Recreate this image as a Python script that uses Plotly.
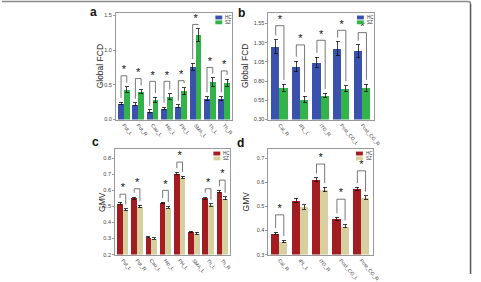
import plotly.graph_objects as go

W, H = 481, 282

# ---------------- data ----------------
a_labels = ["Put_L", "Put_R", "Cau_L", "Hip_L", "PH_L", "SMA_L", "Th_L", "Th_R"]
a_hc = [0.23, 0.22, 0.12, 0.16, 0.19, 0.76, 0.30, 0.30]
a_sz = [0.43, 0.40, 0.28, 0.33, 0.41, 1.22, 0.54, 0.53]
a_hc_err = [0.02, 0.02, 0.02, 0.02, 0.02, 0.05, 0.03, 0.03]
a_sz_err = [0.04, 0.03, 0.04, 0.04, 0.05, 0.09, 0.06, 0.05]
a_bracket = [0.63, 0.59, 0.55, 0.55, 0.56, 1.37, 0.75, 0.70]

b_labels = ["Cal_R", "IPL_L", "ITG_R", "Post_CG_L", "Post_CG_R"]
b_hc = [1.25, 0.99, 1.04, 1.22, 1.19]
b_sz = [0.71, 0.56, 0.61, 0.70, 0.71]
b_hc_err = [0.09, 0.07, 0.07, 0.09, 0.08]
b_sz_err = [0.05, 0.04, 0.03, 0.04, 0.05]
b_bracket = [1.52, 1.27, 1.33, 1.46, 1.43]

c_labels = ["Put_L", "Put_R", "Cau_L", "Hip_L", "PH_L", "SMA_L", "Th_L", "Th_R"]
c_hc = [0.520, 0.552, 0.308, 0.521, 0.706, 0.340, 0.552, 0.593]
c_sz = [0.480, 0.500, 0.300, 0.495, 0.682, 0.332, 0.509, 0.550]
c_hc_err = [0.006, 0.006, 0.004, 0.005, 0.006, 0.005, 0.006, 0.007]
c_sz_err = [0.007, 0.007, 0.004, 0.006, 0.007, 0.006, 0.008, 0.009]
c_sig = [True, True, False, True, True, False, True, True]
c_bracket = [0.576, 0.61, None, 0.60, 0.776, None, 0.61, 0.664]

d_labels = ["Cal_R", "IPL_L", "ITG_R", "Post_CG_L", "Post_CG_R"]
d_hc = [0.388, 0.526, 0.611, 0.448, 0.573]
d_sz = [0.354, 0.498, 0.570, 0.418, 0.537]
d_hc_err = [0.005, 0.008, 0.008, 0.006, 0.006]
d_sz_err = [0.005, 0.009, 0.009, 0.006, 0.007]
d_sig = [True, False, True, True, True]
d_bracket = [0.465, None, 0.676, 0.53, 0.648]

series_names = ["HC", "SZ"]
blue, green = "#3a52ad", "#33b44a"
red, beige = "#a31c21", "#d8cf9f"

FONT = "Liberation Sans, Arial, sans-serif"
fig = go.Figure()

def px_x(p):
    return p / W

def px_y(p):
    return 1 - p / H

panels = [
    dict(key="", labels=a_labels, hc=a_hc, sz=a_sz, he=a_hc_err, se=a_sz_err,
         sig=[True] * 8, br=a_bracket, cols=(blue, green), rng=[0, 1.54],
         ticks=[0.0, 0.5, 1.0, 1.5], fmt=".1f",
         xd=[118, 236], yd=[13, 123], letter="a", lx=95, ly=12, title="Global FCD", tx=102),
    dict(key="2", labels=b_labels, hc=b_hc, sz=b_sz, he=b_hc_err, se=b_sz_err,
         sig=[True] * 5, br=b_bracket, cols=(blue, green), rng=[0.30, 1.69],
         ticks=[0.30, 0.55, 0.80, 1.05, 1.30, 1.55], fmt=".2f",
         xd=[273, 380], yd=[13, 123], letter="b", lx=246, ly=13, title="Global FCD", tx=249),
    dict(key="3", labels=c_labels, hc=c_hc, sz=c_sz, he=c_hc_err, se=c_sz_err,
         sig=c_sig, br=c_bracket, cols=(red, beige), rng=[0.2, 0.86],
         ticks=[0.2, 0.3, 0.4, 0.5, 0.6, 0.7, 0.8], fmt=".1f",
         xd=[117, 234], yd=[153, 262], letter="c", lx=97, ly=146, title="GMV", tx=103),
    dict(key="4", labels=d_labels, hc=d_hc, sz=d_sz, he=d_hc_err, se=d_sz_err,
         sig=d_sig, br=d_bracket, cols=(red, beige), rng=[0.3, 0.74],
         ticks=[0.3, 0.4, 0.5, 0.6, 0.7], fmt=".1f",
         xd=[273, 379], yd=[153, 262], letter="d", lx=245, ly=147, title="GMV", tx=250),
]

layout = dict(
    width=W, height=H, margin=dict(l=0, r=0, t=0, b=0),
    paper_bgcolor="white", plot_bgcolor="white", showlegend=False,
    font=dict(family=FONT, color="#333"), bargap=0,
)
annotations = []
shapes = []

for p in panels:
    k = p["key"]
    xa, ya = "x" + k, "y" + k
    n = len(p["labels"])
    idx = list(range(n))
    off = 0.2
    for vals, errs, col, sgn, nm in [(p["hc"], p["he"], p["cols"][0], -1, "HC"),
                                     (p["sz"], p["se"], p["cols"][1], 1, "SZ")]:
        fig.add_trace(go.Bar(
            x=[i + sgn * off for i in idx], y=vals, width=0.4, name=nm,
            marker=dict(color=col, line=dict(width=0)),
            error_y=dict(type="data", array=errs, color="#111", thickness=0.8, width=2),
            xaxis=xa, yaxis=ya, base=None,
        ))
    # brackets and stars
    for i in idx:
        if not p["sig"][i]:
            continue
        b = p["br"][i]
        span = p["rng"][1] - p["rng"][0]
        gap = 0.04 * span
        y1 = p["hc"][i] + p["he"][i] + gap
        y2 = p["sz"][i] + p["se"][i] + gap
        fig.add_trace(go.Scatter(
            x=[i - off, i - off, i + off, i + off], y=[y1, b, b, y2],
            mode="lines", line=dict(color="#555", width=0.8),
            xaxis=xa, yaxis=ya, hoverinfo="skip"))
        fig.add_trace(go.Scatter(
            x=[i], y=[b], mode="text", text=["*"], textposition="top center",
            textfont=dict(size=11, color="#111", family=FONT),
            xaxis=xa, yaxis=ya, hoverinfo="skip"))
    axk = "xaxis" + k
    ayk = "yaxis" + k
    layout[axk] = dict(
        domain=[px_x(p["xd"][0]), px_x(p["xd"][1])], range=[-0.55, n - 0.45],
        anchor=ya, tickmode="array", tickvals=idx, ticktext=p["labels"],
        tickangle=50, tickfont=dict(size=5, color="#444"), showgrid=False,
        zeroline=False, showline=True, mirror=True, linecolor="#999", linewidth=1,
        ticks="", fixedrange=True,
    )
    layout[ayk] = dict(
        domain=[px_y(p["yd"][1]), px_y(p["yd"][0])], range=p["rng"],
        anchor=xa, tickmode="array", tickvals=p["ticks"],
        ticktext=[format(t, p["fmt"]) for t in p["ticks"]],
        tickfont=dict(size=5.5, color="#444"), showgrid=False, zeroline=False,
        showline=True, mirror=True, linecolor="#999", linewidth=1,
        ticks="outside", ticklen=2, tickcolor="#999", fixedrange=True,
    )
    annotations.append(dict(x=px_x(p["lx"]), y=px_y(p["ly"]), xref="paper", yref="paper",
                            text="<b>" + p["letter"] + "</b>", showarrow=False,
                            font=dict(size=12, color="#111", family=FONT),
                            xanchor="center", yanchor="middle"))
    ymid = (p["yd"][0] + p["yd"][1]) / 2
    annotations.append(dict(x=px_x(p["tx"]), y=px_y(ymid), xref="paper", yref="paper",
                            text=p["title"], textangle=-90, showarrow=False,
                            font=dict(size=8.5, color="#222", family=FONT),
                            xanchor="center", yanchor="middle"))
    # manual legend in the top-right of each panel
    x0 = p["xd"][1] - 17
    for j, (nm, col) in enumerate(zip(series_names, p["cols"])):
        yt = p["yd"][0] + 3 + j * 5
        shapes.append(dict(type="rect", xref="paper", yref="paper",
                           x0=px_x(x0), x1=px_x(x0 + 7), y0=px_y(yt + 4), y1=px_y(yt),
                           fillcolor=col, line=dict(width=0)))
        annotations.append(dict(x=px_x(x0 + 8), y=px_y(yt + 2), xref="paper", yref="paper",
                                text=nm, showarrow=False, xanchor="left", yanchor="middle",
                                font=dict(size=4.5, color="#333", family=FONT)))

# outer frame (top and right edges of the surrounding box)
shapes.append(dict(type="line", xref="paper", yref="paper", x0=px_x(2), x1=px_x(476),
                   y0=px_y(1.5), y1=px_y(1.5), line=dict(color="#8a8a8a", width=1.5)))
shapes.append(dict(type="path", xref="paper", yref="paper",
                   path=f"M {px_x(476)} {px_y(1.5)} Q {px_x(478.5)} {px_y(1.5)} {px_x(478.5)} {px_y(4)}",
                   line=dict(color="#8a8a8a", width=1.5)))
shapes.append(dict(type="line", xref="paper", yref="paper", x0=px_x(478.5), x1=px_x(478.5),
                   y0=px_y(4), y1=px_y(282), line=dict(color="#555", width=1.5)))

layout["annotations"] = annotations
layout["shapes"] = shapes
layout["barmode"] = "overlay"
fig.update_layout(**layout)
fig.write_html("out.html")
